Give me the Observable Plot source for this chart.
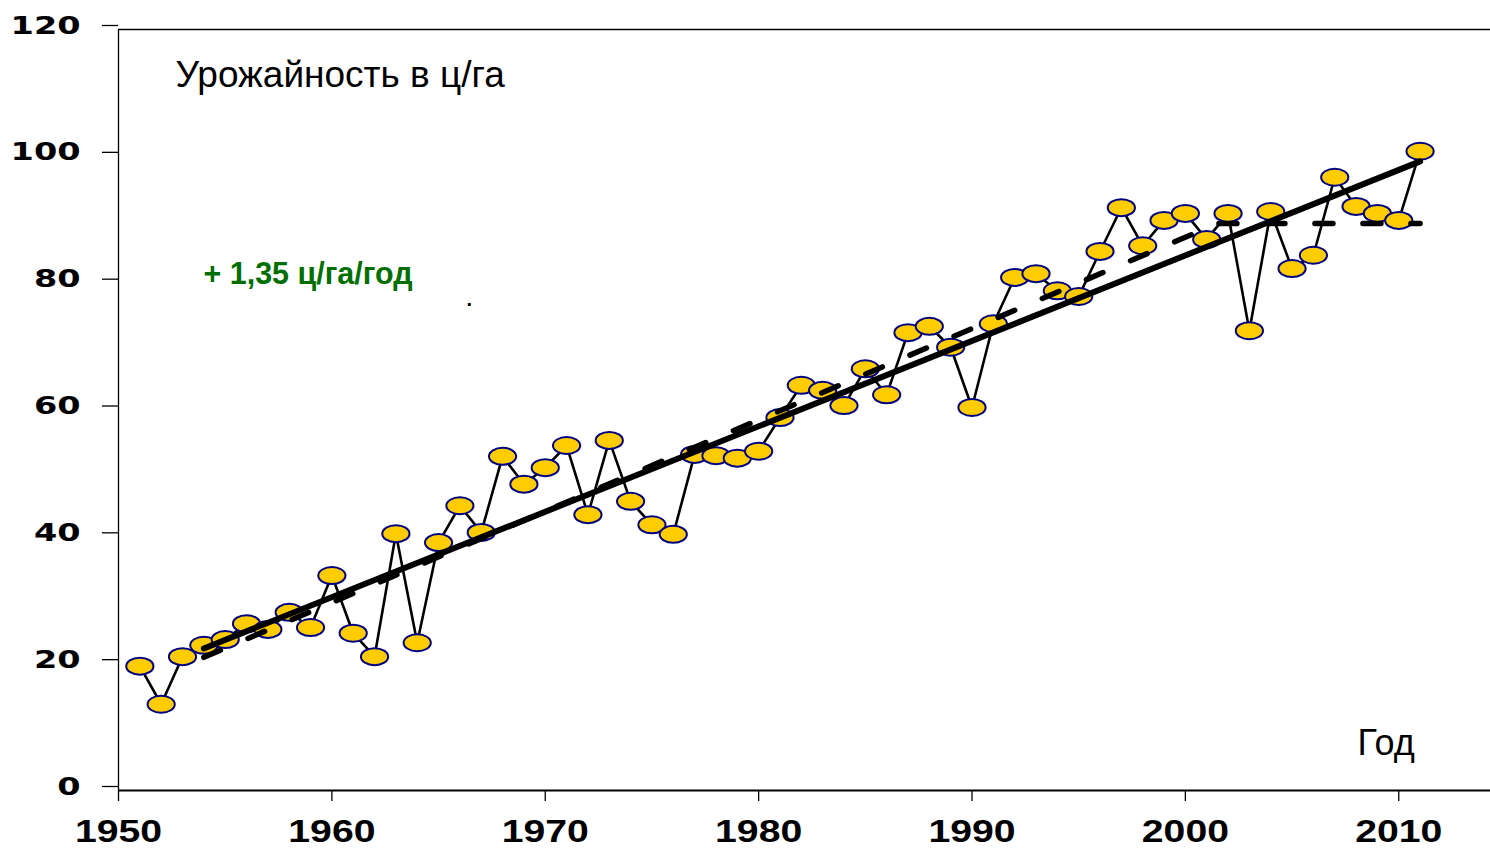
<!DOCTYPE html>
<html>
<head>
<meta charset="utf-8">
<script src="https://cdn.jsdelivr.net/npm/d3@7"></script>
<script src="https://cdn.jsdelivr.net/npm/@observablehq/plot@0.6"></script>
<style>
  html, body { margin: 0; padding: 0; background: #fff; }
  #chart { width: 1490px; height: 849px; }
</style>
</head>
<body>
<div id="chart"></div>
<script>
// ---- data ----
const years = [1951,1952,1953,1954,1955,1956,1957,1958,1959,1960,
  1961,1962,1963,1964,1965,1966,1967,1968,1969,1970,
  1971,1972,1973,1974,1975,1976,1977,1978,1979,1980,
  1981,1982,1983,1984,1985,1986,1987,1988,1989,1990,
  1991,1992,1993,1994,1995,1996,1997,1998,1999,2000,
  2001,2002,2003,2004,2005,2006,2007,2008,2009,2010,2011];
const yields = [19.6,13.6,21.1,22.9,23.8,26.3,25.4,28.1,25.7,33.9,
  24.8,21.1,40.5,23.3,39.1,44.9,40.7,52.7,48.3,50.9,
  54.4,43.5,55.2,45.6,41.9,40.4,53.0,52.8,52.4,53.5,
  58.8,63.9,63.1,60.7,66.5,62.4,72.2,73.2,69.9,60.4,
  73.6,80.9,81.5,78.8,77.9,85.0,91.9,85.9,89.9,91.0,
  86.9,91.0,72.5,91.3,82.3,84.4,96.7,92.1,91.0,89.9,100.8];
const trendYears = [1954, 2011];
const trendValues = [22.4, 99.2];
const plateauYears = [1954, 2001.5, 2011];
const plateauValues = [21.0, 89.4, 89.4];
const yTicks = [0, 20, 40, 60, 80, 100, 120];
const xTicks = [1950, 1960, 1970, 1980, 1990, 2000, 2010];
const titleText = "Урожайность в ц/га";
const slopeText = "+ 1,35 ц/га/год";
const xLabelText = "Год";

const points = years.map((y, i) => ({year: y, value: yields[i]}));
const trend = trendYears.map((y, i) => ({year: y, value: trendValues[i]}));
const plateau = plateauYears.map((y, i) => ({year: y, value: plateauValues[i]}));

// ellipse symbol
const ellipse = {
  draw(ctx, size) {
    const ry = Math.sqrt(size / Math.PI);
    const rx = ry * 1.6;
    const k = 0.5523;
    ctx.moveTo(rx, 0);
    ctx.bezierCurveTo(rx, ry * k, rx * k, ry, 0, ry);
    ctx.bezierCurveTo(-rx * k, ry, -rx, ry * k, -rx, 0);
    ctx.bezierCurveTo(-rx, -ry * k, -rx * k, -ry, 0, -ry);
    ctx.bezierCurveTo(rx * k, -ry, rx, -ry * k, rx, 0);
    ctx.closePath();
  }
};

const chart = Plot.plot({
  width: 1490,
  height: 849,
  marginLeft: 118,
  marginRight: 0,
  marginTop: 29,
  marginBottom: 59,
  style: {fontFamily: "Liberation Sans, Arial, sans-serif", background: "#fff", overflow: "visible"},
  x: {domain: [1950, 2014.3]},
  y: {domain: [0, 120]},
  marks: [
    Plot.axisY({ticks: yTicks, tickSize: 16, tickPadding: 22, label: null, tickFormat: d => String(d),
      fontSize: 25, fontWeight: "bold", fontFamily: "DejaVu Sans", dy: -4, strokeWidth: 1.3}),
    Plot.axisX({ticks: xTicks, tickSize: 11, tickPadding: 18, label: null, tickFormat: d => String(d),
      fontSize: 32, fontWeight: "bold", fontFamily: "Liberation Sans", strokeWidth: 1.3}),
    Plot.ruleY([120], {stroke: "#000", strokeWidth: 1.3}),
    Plot.ruleX([1950], {stroke: "#000", strokeWidth: 1.3}),
    Plot.ruleY([0], {stroke: "#000", strokeWidth: 2.2}),
    Plot.line(points, {x: "year", y: "value", stroke: "#000", strokeWidth: 2.6}),
    Plot.dot(points, {x: "year", y: "value", r: 8.5, symbol: ellipse, fill: "#FFCC00", stroke: "#000080", strokeWidth: 2}),
    Plot.line(plateau, {x: "year", y: "value", stroke: "#000", strokeWidth: 5.5, strokeDasharray: "18,30"}),
    Plot.line(trend, {x: "year", y: "value", stroke: "#000", strokeWidth: 6}),
    Plot.text([titleText], {frameAnchor: "top-left", dx: 57, dy: 46, text: d => d, textAnchor: "start",
      lineAnchor: "middle", fontSize: 37, fill: "#000", fontFamily: "Liberation Sans"}),
    Plot.text([slopeText], {frameAnchor: "top-left", dx: 85, dy: 244, text: d => d, textAnchor: "start",
      lineAnchor: "middle", fontSize: 32, fontWeight: "bold", fill: "#006E00", fontFamily: "Liberation Sans"}),
    Plot.text(["."], {frameAnchor: "top-left", dx: 348, dy: 270, text: d => d, textAnchor: "start",
      lineAnchor: "middle", fontSize: 20, fontWeight: "bold", fill: "#000"}),
    Plot.text([xLabelText], {frameAnchor: "top-left", dx: 1239, dy: 714, text: d => d, textAnchor: "start",
      lineAnchor: "middle", fontSize: 36, fill: "#000", fontFamily: "Liberation Sans"})
  ]
});
document.getElementById("chart").appendChild(chart);

// widen tick labels / annotation to match the reference's glyph widths
d3.select(chart).selectAll('g[aria-label="y-axis tick label"] text').each(function() {
  this.setAttribute("textLength", 23.3 * this.textContent.length);
  this.setAttribute("lengthAdjust", "spacingAndGlyphs");
});
d3.select(chart).selectAll('g[aria-label="x-axis tick label"] text').each(function() {
  this.setAttribute("textLength", 21.8 * this.textContent.length);
  this.setAttribute("lengthAdjust", "spacingAndGlyphs");
});
d3.select(chart).selectAll('g[aria-label="text"] text').filter(function() {
  return this.textContent === slopeText;
}).attr("textLength", 209).attr("lengthAdjust", "spacingAndGlyphs");
</script>
</body>
</html>
